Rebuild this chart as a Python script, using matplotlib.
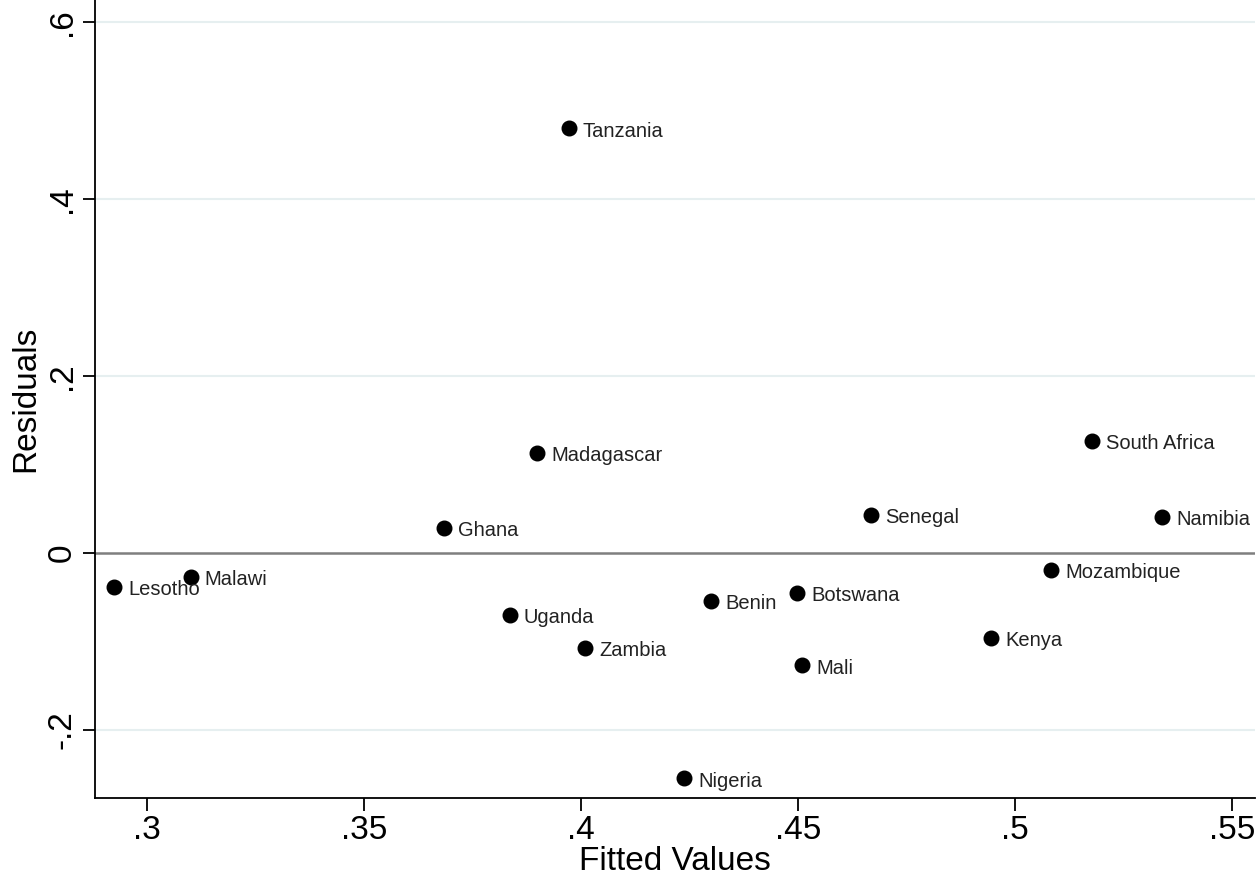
import numpy as np
import matplotlib.pyplot as plt

plt.rcParams['font.family'] = ['Liberation Sans', 'DejaVu Sans']

# fitted values and residuals
countries = ['Tanzania', 'Madagascar', 'Ghana', 'Lesotho', 'Malawi', 'Uganda',
             'Zambia', 'Benin', 'Botswana', 'Mali', 'Nigeria', 'Senegal',
             'Kenya', 'Mozambique', 'South Africa', 'Namibia']
fitted = [0.3972, 0.3899, 0.3684, 0.2924, 0.3101, 0.3836,
          0.4009, 0.4300, 0.4498, 0.4509, 0.4237, 0.4668,
          0.4945, 0.5083, 0.5177, 0.5339]
resid = [0.480, 0.113, 0.028, -0.038, -0.027, -0.070,
         -0.107, -0.054, -0.045, -0.127, -0.255, 0.043,
         -0.096, -0.019, 0.127, 0.041]

xticks = [0.30, 0.35, 0.40, 0.45, 0.50, 0.55]
xlabels = ['.3', '.35', '.4', '.45', '.5', '.55']
yticks = [-0.2, 0, 0.2, 0.4, 0.6]
ylabels = ['-.2', '0', '.2', '.4', '.6']

fig = plt.figure(figsize=(12.59, 8.88), dpi=100)
ax = fig.add_axes([0.0755, 0.1014, 0.9215, 0.8986])

for y in yticks:
    if y != 0:
        ax.axhline(y, color='#e6eff0', lw=1.5, zorder=0)
ax.axhline(0, color='#7f7f7f', lw=1.8, zorder=1)

ax.scatter(fitted, resid, s=110, color='black', zorder=3)
for name, x, y in zip(countries, fitted, resid):
    ax.annotate(name, (x, y), xytext=(10, -2), textcoords='offset points',
                va='center', ha='left', fontsize=14.5, color='#222222')

ax.set_xlim(0.288, 0.5553)
ax.set_ylim(-0.277, 0.625)
ax.set_xticks(xticks)
ax.set_xticklabels(xlabels)
ax.set_yticks(yticks)
ax.set_yticklabels(ylabels, rotation=90, va='center')
ax.tick_params(axis='both', labelsize=24, length=9, width=1.3, direction='out')
ax.spines['top'].set_visible(False)
ax.spines['right'].set_visible(False)
for s in ['left', 'bottom']:
    ax.spines[s].set_linewidth(1.3)

ax.set_xlabel('Fitted Values', fontsize=24, labelpad=0)
ax.set_ylabel('Residuals', fontsize=24, labelpad=4)

fig.savefig('out.png', dpi=100)
